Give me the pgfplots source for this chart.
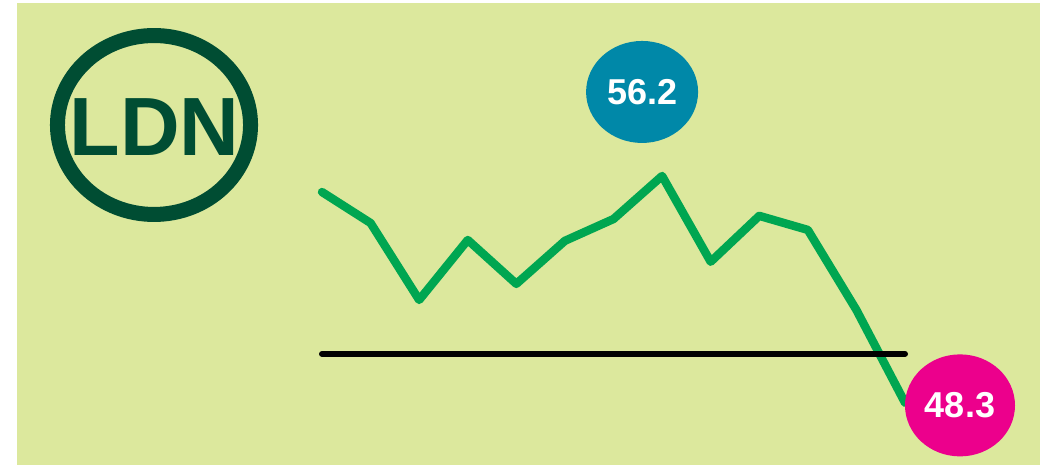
\documentclass[border=0pt]{standalone}
\usepackage{pgfplots}
\pgfplotsset{compat=1.18}
\usetikzlibrary{shapes.geometric}
\usepackage{fontspec}
\setmainfont{Liberation Sans}

\definecolor{bg}{HTML}{DCE89D}
\definecolor{logo}{HTML}{004D33}
\definecolor{linegreen}{HTML}{00A651}
\definecolor{bubbleblue}{HTML}{0088A8}
\definecolor{bubblepink}{HTML}{EC008C}

\pgfplotstableread{
idx val
0  55.64
1  54.56
2  51.88
3  53.97
4  52.44
5  53.94
6  54.70
7  56.20
8  53.21
9  54.81
10 54.32
11 51.53
12 48.30
}\ldn

\begin{document}
\begin{tikzpicture}
\begin{axis}[
    scale only axis,
    width=781.5pt, height=348.75pt,
    xmin=-6.628, xmax=14.82,
    ymin=46.13, ymax=62.33,
    hide axis, clip=false]
  % background panel
  \fill[white] (rel axis cs:0,0) rectangle (rel axis cs:1,1);
  \fill[bg] (rel axis cs:0.0163,0) rectangle (rel axis cs:0.998,0.9935);
  % logo
  \draw[logo, line width=11.25pt] (rel axis cs:0.1478,0.7312)
     ellipse [x radius=72.4pt, y radius=67.1pt];
  \node[text=logo, inner sep=0pt, font=\bfseries\fontsize{62}{62}\selectfont]
     at (rel axis cs:0.1483,0.7275) {LDN};
  % series
  \addplot[linegreen, line width=6.3pt, line cap=round, line join=round]
     table[x=idx, y=val] {\ldn};
  % reference line at 50
  \addplot[black, line width=4.5pt, line cap=round] coordinates {(0,50) (12,50)};
  % bubbles
  \node[ellipse, fill=bubbleblue, minimum width=84pt, minimum height=76.5pt,
        inner sep=0pt, text=white, font=\bfseries\fontsize{27}{27}\selectfont,
        xshift=-15pt, yshift=63pt] at (axis cs:7,56.2) {56.2};
  \node[ellipse, fill=bubblepink, minimum width=82.5pt, minimum height=76.5pt,
        inner sep=0pt, text=white, font=\bfseries\fontsize{27}{27}\selectfont,
        xshift=41.25pt, yshift=-2pt] at (axis cs:12,48.3) {48.3};
\end{axis}
\end{tikzpicture}
\end{document}
